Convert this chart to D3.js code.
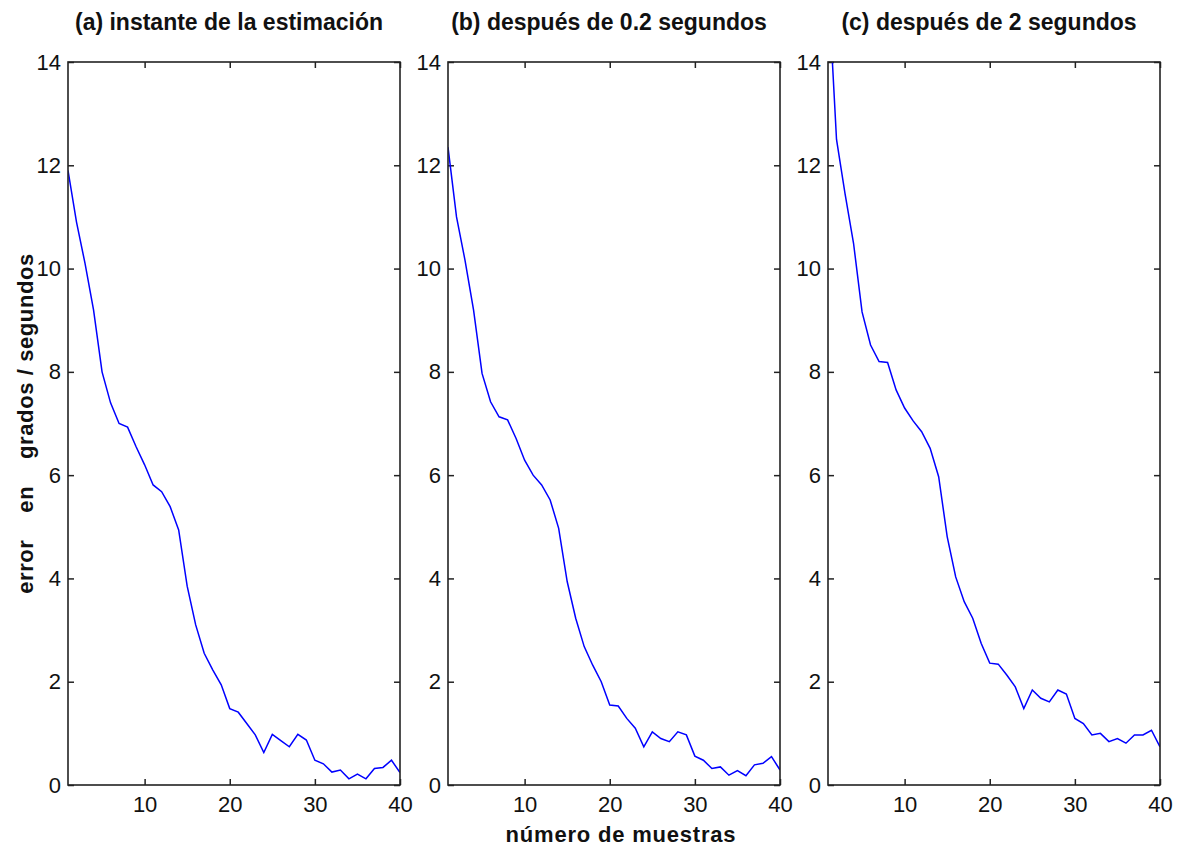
<!DOCTYPE html>
<html>
<head>
<meta charset="utf-8">
<script src="https://cdn.jsdelivr.net/npm/d3@7"></script>
<style>
  html, body { margin: 0; padding: 0; background: #fff; }
  svg { display: block; }
  text { font-family: "Liberation Sans", Arial, Helvetica, sans-serif; fill: #111; }
</style>
</head>
<body>
<svg id="chart" width="1178" height="848"></svg>
<script>
// Sample index (número de muestras) shared by the three panels
const samples = d3.range(1, 41);

// Error (grados / segundos) per sample for each estimation horizon
const errInstant = [11.9, 10.9, 10.1, 9.2, 8.0, 7.4, 7.0, 6.93, 6.55, 6.2,
  5.81, 5.68, 5.39, 4.94, 3.85, 3.1, 2.55, 2.23, 1.94, 1.48,
  1.41, 1.19, 0.97, 0.63, 0.98, 0.86, 0.74, 0.98, 0.87, 0.48,
  0.41, 0.25, 0.29, 0.12, 0.21, 0.12, 0.32, 0.34, 0.48, 0.24];

const errAfter02 = [12.35, 11.0, 10.16, 9.2, 7.97, 7.42, 7.13, 7.07, 6.71, 6.29,
  6.0, 5.81, 5.52, 4.97, 3.94, 3.23, 2.68, 2.32, 2.0, 1.55,
  1.53, 1.29, 1.1, 0.74, 1.03, 0.9, 0.84, 1.03, 0.97, 0.56,
  0.48, 0.32, 0.35, 0.19, 0.28, 0.18, 0.39, 0.42, 0.55, 0.29];

const errAfter2 = [15.6, 12.5, 11.45, 10.49, 9.16, 8.52, 8.2, 8.18, 7.65, 7.3,
  7.05, 6.84, 6.52, 5.97, 4.81, 4.03, 3.55, 3.23, 2.74, 2.36,
  2.34, 2.13, 1.9, 1.48, 1.84, 1.68, 1.61, 1.84, 1.76, 1.29,
  1.19, 0.97, 1.0, 0.84, 0.9, 0.81, 0.97, 0.97, 1.06, 0.74];

const panelTitles = ["(a) instante de la estimación", "(b) después de 0.2 segundos", "(c) después de 2 segundos"];
const xTicks = [10, 20, 30, 40];
const yTicks = [0, 2, 4, 6, 8, 10, 12, 14];
const xLabel = "número de muestras";
const yLabel = "error    en    grados / segundos";

const panels = [
  { title: panelTitles[0], values: errInstant, left: 68 },
  { title: panelTitles[1], values: errAfter02, left: 448 },
  { title: panelTitles[2], values: errAfter2, left: 828 }
];

const plotTop = 62, plotBottom = 785, plotWidth = 332;
const svg = d3.select("#chart");

const y = d3.scaleLinear().domain([0, 14]).range([plotBottom, plotTop]);

panels.forEach((p, k) => {
  const x = d3.scaleLinear().domain([1, 40]).range([p.left, p.left + plotWidth]);
  const g = svg.append("g");

  // clip region for the data line
  const clipId = "clip" + k;
  svg.append("clipPath").attr("id", clipId)
    .append("rect").attr("x", p.left).attr("y", plotTop)
    .attr("width", plotWidth).attr("height", plotBottom - plotTop);

  // inward ticks on all four sides
  const axB = g.append("g").attr("transform", `translate(0,${plotBottom})`)
    .call(d3.axisBottom(x).tickValues(xTicks).tickSizeInner(-6).tickSizeOuter(0).tickPadding(11));
  const axT = g.append("g").attr("transform", `translate(0,${plotTop})`)
    .call(d3.axisTop(x).tickValues(xTicks).tickSizeInner(-6).tickSizeOuter(0).tickFormat(""));
  const axL = g.append("g").attr("transform", `translate(${p.left},0)`)
    .call(d3.axisLeft(y).tickValues(yTicks).tickSizeInner(-6).tickSizeOuter(0).tickPadding(7));
  const axR = g.append("g").attr("transform", `translate(${p.left + plotWidth},0)`)
    .call(d3.axisRight(y).tickValues(yTicks).tickSizeInner(-6).tickSizeOuter(0).tickFormat(""));

  [axB, axT, axL, axR].forEach(a => {
    a.select(".domain").remove();
    a.selectAll(".tick line").attr("stroke", "#222").attr("stroke-width", 1.5);
    a.selectAll(".tick text").attr("font-size", 22).attr("fill", "#111")
      .attr("font-family", "'Liberation Sans', Arial, sans-serif");
  });

  // data line
  const line = d3.line().x((d, i) => x(samples[i])).y(d => y(d));
  g.append("path")
    .datum(p.values)
    .attr("clip-path", `url(#${clipId})`)
    .attr("fill", "none")
    .attr("stroke", "#0000ff")
    .attr("stroke-width", 1.5)
    .attr("d", line);

  // box
  g.append("rect")
    .attr("x", p.left).attr("y", plotTop)
    .attr("width", plotWidth).attr("height", plotBottom - plotTop)
    .attr("fill", "none").attr("stroke", "#222").attr("stroke-width", 1.6);

  // title
  svg.append("text")
    .attr("x", p.left + plotWidth / 2 - 5)
    .attr("y", 30)
    .attr("text-anchor", "middle")
    .attr("font-size", 23)
    .attr("font-weight", "bold")
    .text(p.title);
});

// shared axis labels
svg.append("text")
  .attr("x", 621).attr("y", 842)
  .attr("text-anchor", "middle")
  .attr("font-size", 22)
  .attr("font-weight", "bold")
  .attr("letter-spacing", 0.8)
  .text(xLabel);

svg.append("text")
  .attr("transform", `translate(33,${(plotTop + plotBottom) / 2}) rotate(-90)`)
  .attr("text-anchor", "middle")
  .attr("font-size", 22)
  .attr("font-weight", "bold")
  .attr("letter-spacing", 0.6)
  .style("white-space", "pre")
  .text(yLabel);
</script>
</body>
</html>
